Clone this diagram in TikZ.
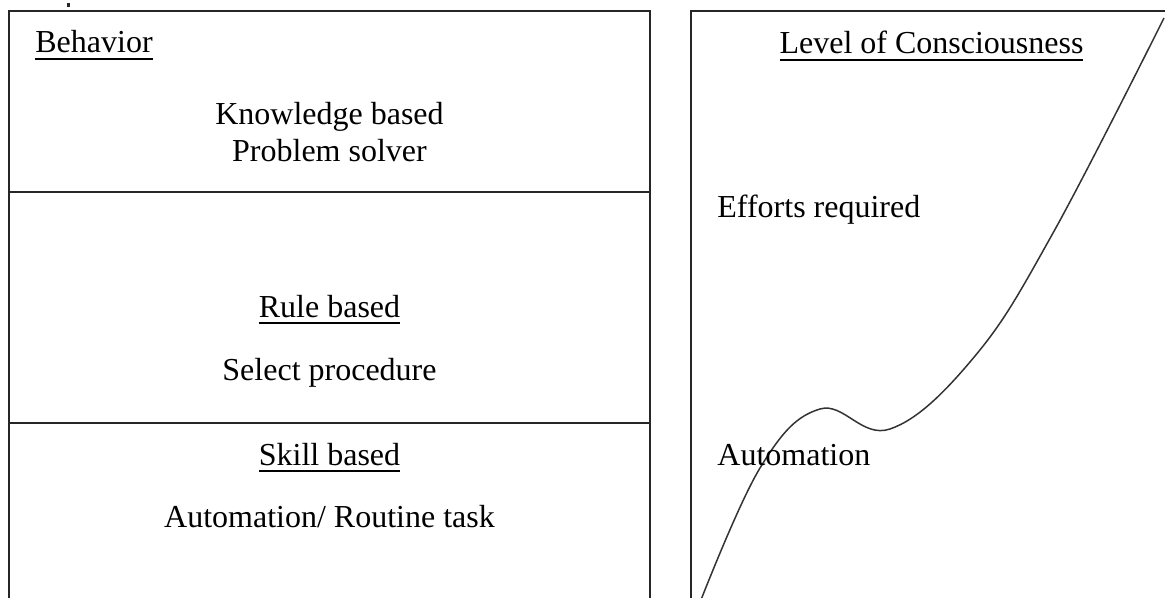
\documentclass[tikz,border=0pt]{standalone}
\usepackage{fontspec}
\setmainfont{Liberation Serif}
\newcommand{\ulined}[1]{\vtop{\hbox{#1}\kern2.2pt\hrule height 1pt}}
\tikzset{
  frameline/.style={line width=1pt, black!85},
  curveline/.style={line width=0.75pt, black!80},
  txt/.style={inner sep=0pt, anchor=base, font=\fontsize{16}{19}\selectfont},
  txtleft/.style={txt, anchor=base west}
}
\begin{document}
\begin{tikzpicture}[x=0.5pt, y=-0.5pt]
  \path[use as bounding box] (0,0) rectangle (1165,598);
  \clip (0,0) rectangle (1165,598);
  \fill[black!85] (66.5,3.5) rectangle (70,7);
  % left column: the three behaviour levels
  \draw[frameline] (9,11) rectangle (650,620);
  \draw[frameline] (9,192) -- (650,192);
  \draw[frameline] (9,423) -- (650,423);
  \node[txtleft] (behavior) at (35,53) {\ulined{Behavior}};
  \node[txt] (knowledge) at (329.5,125) {Knowledge based};
  \node[txt] (problem) at (329.5,162) {Problem solver};
  \node[txt] (rule) at (329.5,317) {\ulined{Rule based}};
  \node[txt] (select) at (329.5,380) {Select procedure};
  \node[txt] (skill) at (329.5,465) {\ulined{Skill based}};
  \node[txt] (routine) at (329.5,527) {Automation/ Routine task};
  % right column: consciousness curve
  \draw[frameline] (691,620) -- (691,11) -- (1180,11);
  \draw[curveline] plot[smooth, tension=0.65] coordinates {
    (697,610) (760,468) (820,409) (890,429) (975,356) (1053,233) (1164,18)};
  \node[txt] (level) at (931.5,54) {\ulined{Level of Consciousness}};
  \node[txtleft] (efforts) at (717,218) {Efforts required};
  \node[txtleft] (automation) at (717,465) {Automation};
\end{tikzpicture}
\end{document}
